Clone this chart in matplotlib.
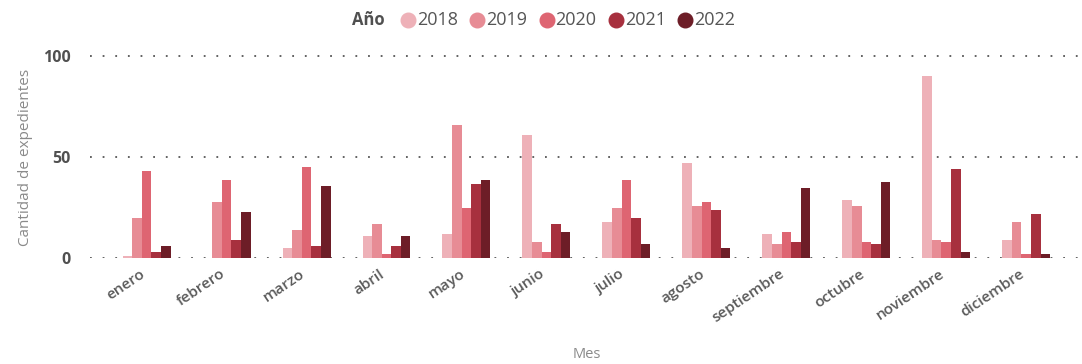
import numpy as np
import matplotlib
matplotlib.use('Agg')
import matplotlib.pyplot as plt
import matplotlib.transforms as mtransforms
from matplotlib.lines import Line2D

plt.rcParams['font.family'] = ['Open Sans', 'DejaVu Sans']

# datos
meses = ['enero', 'febrero', 'marzo', 'abril', 'mayo', 'junio', 'julio',
         'agosto', 'septiembre', 'octubre', 'noviembre', 'diciembre']
anios = ['2018', '2019', '2020', '2021', '2022']
v2018 = [1, 0, 5, 11, 12, 61, 18, 47, 12, 29, 90, 9]
v2019 = [20, 28, 14, 17, 66, 8, 25, 26, 7, 26, 9, 18]
v2020 = [43, 39, 45, 2, 25, 3, 39, 28, 13, 8, 8, 2]
v2021 = [3, 9, 6, 6, 37, 17, 20, 24, 8, 7, 44, 22]
v2022 = [6, 23, 36, 11, 39, 13, 7, 5, 35, 38, 3, 2]
series = [v2018, v2019, v2020, v2021, v2022]
colores = ['#EEB1B8', '#E78C95', '#DE6572', '#A7303E', '#6D1D27']

W, H = 1082, 364
fig = plt.figure(figsize=(W / 100, H / 100), dpi=100)
ax = fig.add_axes([0.083, 0.29, 0.915, 0.586])

x = np.arange(len(meses))
w = 0.12
for i, (vals, c) in enumerate(zip(series, colores)):
    ax.bar(x + (i - 2) * w, vals, width=w, color=c, linewidth=0, zorder=3)

ax.set_xlim(-0.71, 11.67)
ax.set_ylim(0, 105.4)
ax.set_yticks([0, 50, 100])
ax.yaxis.grid(True, linestyle=(0, (1, 6)), linewidth=1.3, color='#555555', zorder=0)
for s in ax.spines.values():
    s.set_visible(False)
ax.tick_params(axis='both', length=0)
ax.tick_params(axis='y', pad=14)
for lab in ax.get_yticklabels():
    lab.set_fontweight('bold')
    lab.set_fontsize(11.5)
    lab.set_color('#505050')

ax.set_xticks(x)
ax.set_xticklabels(meses, rotation=34, ha='right', rotation_mode='anchor',
                   fontsize=11, fontweight='semibold', color='#5a5a5a')
ax.tick_params(axis='x', pad=6)
shift = mtransforms.ScaledTranslation(-7 / 100, 0, fig.dpi_scale_trans)
for lab in ax.get_xticklabels():
    lab.set_transform(lab.get_transform() + shift)

ax.set_ylabel('Cantidad de expedientes', fontsize=11, color='#8a8a8a')
ax.yaxis.set_label_coords(-0.057, 0.475)
fig.text(587 / W, 1 - 355 / H, 'Mes', fontsize=10.5, color='#8a8a8a',
         ha='center', va='center')

# leyenda (manual, en fila)
ly = 1 - 20 / H
fig.text(352 / W, ly, 'Año', fontsize=12, fontweight='bold', color='#505050',
         ha='left', va='center')
for i, (a, c) in enumerate(zip(anios, colores)):
    cx = 408 + 69.3 * i
    fig.add_artist(Line2D([cx / W], [ly], marker='o', markersize=10.5,
                          markerfacecolor=c, markeredgecolor=c,
                          transform=fig.transFigure))
    fig.text((cx + 9) / W, ly, a, fontsize=13, color='#555555',
             ha='left', va='center')

fig.savefig('out.png', dpi=100, facecolor='white')
